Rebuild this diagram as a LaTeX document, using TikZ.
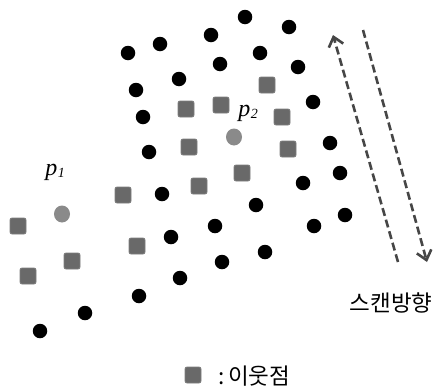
\documentclass[tikz,border=0pt]{standalone}
\usepackage{fontspec}
\newfontfamily\kr{Noto Sans CJK KR}
\newfontfamily\tm{Liberation Serif}
\usetikzlibrary{arrows.meta,shapes.geometric}
\definecolor{sqgray}{RGB}{105,105,105}
\definecolor{sqedge}{RGB}{125,125,125}
\definecolor{ptgray}{RGB}{138,138,138}
\definecolor{arrgray}{RGB}{70,70,70}
\newcommand{\plab}[1]{{\tm\itshape\fontsize{24}{25}\selectfont p\kern0.5pt\raisebox{-2pt}{\fontsize{14}{14}\selectfont #1}}}
\tikzset{
  dot/.style={circle,fill=black,inner sep=0pt,minimum size=14.5pt},
  nbr/.style={rectangle,rounded corners=2pt,fill=sqgray,draw=sqedge,line width=0.8pt,inner sep=0pt,minimum size=16pt},
  qpt/.style={ellipse,fill=ptgray,inner sep=0pt,minimum width=16pt,minimum height=17pt},
  plabel/.style={inner sep=0pt},
  scan/.style={draw=arrgray,line width=2.6pt,dash pattern=on 8pt off 4pt,-{Straight Barb[length=9pt,width=15pt,line width=2.6pt]}},
  krtext/.style={inner sep=0pt,font=\kr\fontsize{22.5}{24}\selectfont}
}
\begin{document}
\begin{tikzpicture}[x=1pt,y=-1pt]
\useasboundingbox (0,0) rectangle (438,391);
% black dots
\foreach \n/\x/\y in {1/245/17, 2/160/44, 3/211/35, 4/289/27, 5/128/53, 6/260/53,
  7/179/79, 8/220/64, 9/298/67, 10/136/90, 11/313/102, 12/143/117, 13/330/143,
  14/149/152, 15/340/173, 16/303/183, 17/162/194, 18/256/205, 19/345/215,
  20/215/226, 21/314/226, 22/171/237, 23/265/252, 24/222/262, 25/180/278,
  26/139/296, 27/85/313, 28/40/331}
  \node[dot] (d\n) at (\x,\y) {};
% neighbour squares
\foreach \n/\x/\y in {1/267/85, 2/186/109, 3/221/105, 4/282/117, 5/189/147,
  6/288/149, 7/242/173, 8/199/186, 9/123/195, 10/18/226, 11/137/246,
  12/72/261, 13/28/276}
  \node[nbr] (s\n) at (\x,\y) {};
% query points
\node[qpt] (p1) at (62,214) {};
\node[qpt] (p2) at (234,137) {};
\node[plabel] (p1lab) at (55,172) {\plab{1}};
\node[plabel] (p2lab) at (248,113) {\plab{2}};
% scan direction arrows
\coordinate (a1s) at (398,262);
\coordinate (a1e) at (333,35);
\coordinate (a2s) at (363,30);
\coordinate (a2e) at (427,262);
\draw[scan] (a1s) -- (a1e);
\draw[scan] (a2s) -- (a2e);
\node[krtext] (scanlab) at (391,303) {스캔방향};
% legend
\node[nbr] (legsq) at (193,375) {};
\node[krtext,anchor=west] (leglab) at (218,376) {:\,이웃점};
\end{tikzpicture}
\end{document}
